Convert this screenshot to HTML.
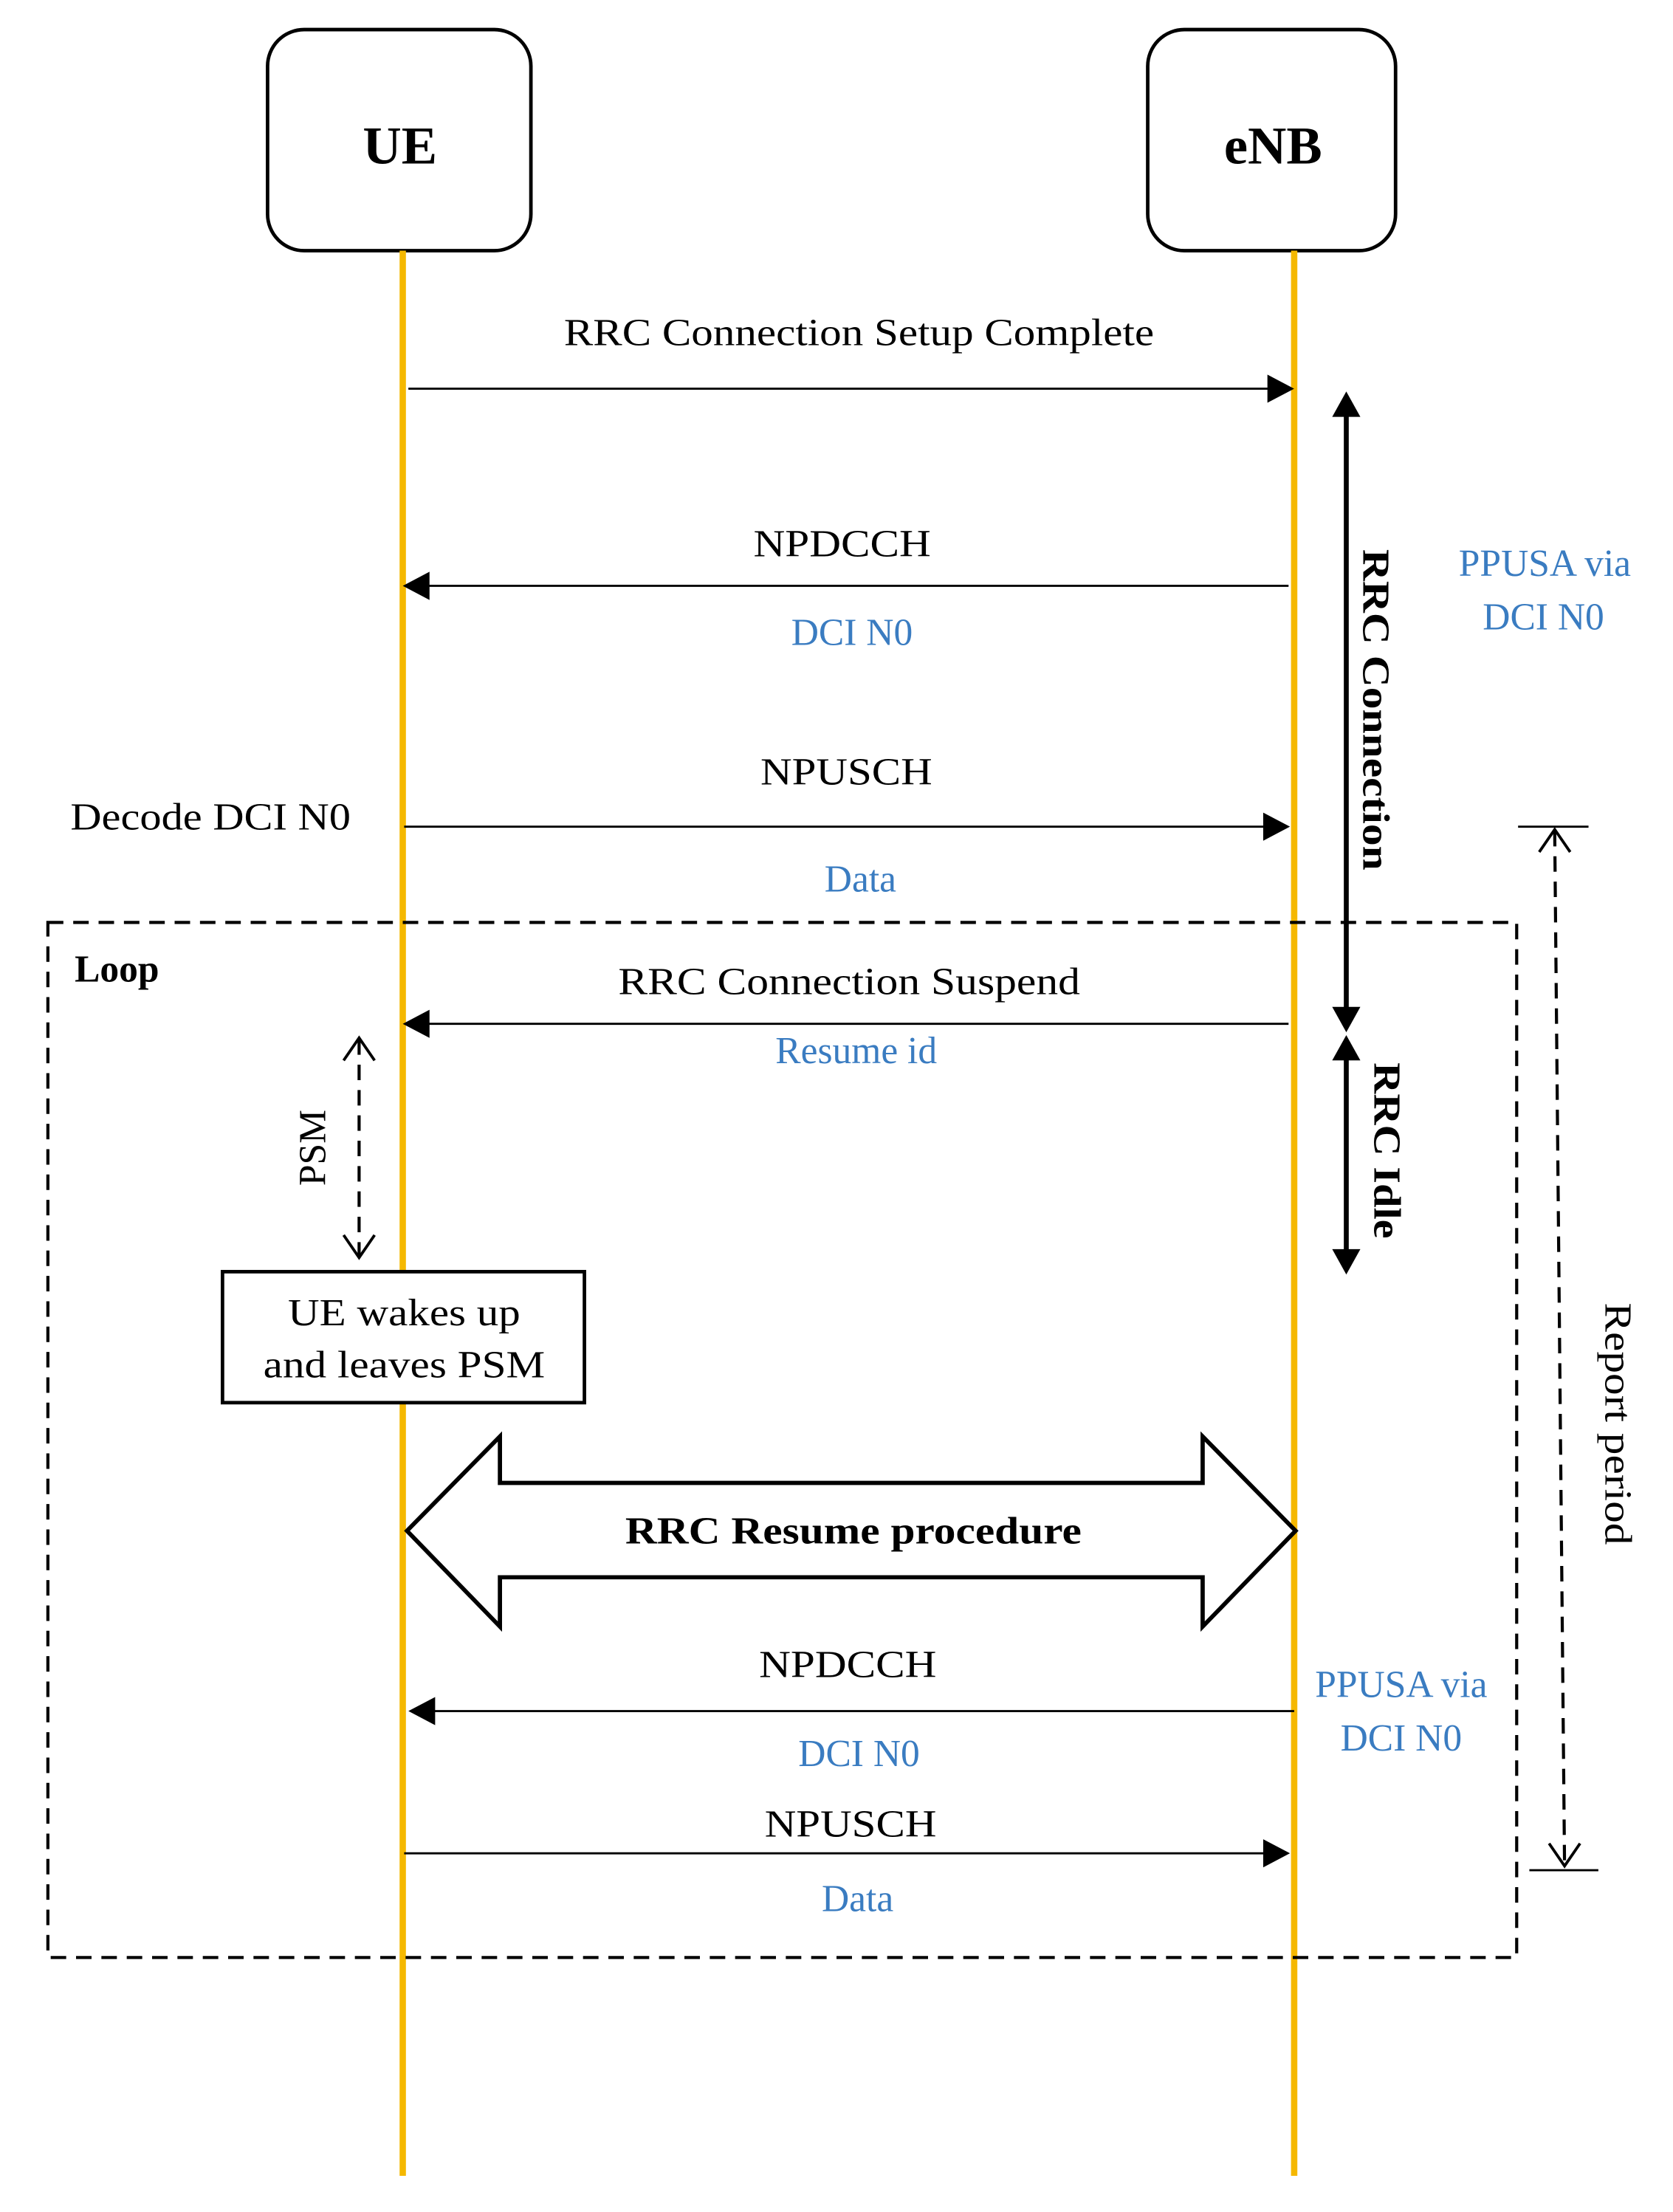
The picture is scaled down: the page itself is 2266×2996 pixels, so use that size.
<!DOCTYPE html>
<html><head><meta charset="utf-8"><style>html,body{margin:0;padding:0;background:#fff}svg{display:block}</style></head>
<body>
<svg width="2266" height="2996" viewBox="0 0 1188 1570.7" preserveAspectRatio="none" xmlns="http://www.w3.org/2000/svg" font-family="'Liberation Serif', serif" font-size="27">
<!-- boxes -->
<rect x="190" y="21" width="187" height="157" rx="26" fill="#fff" stroke="#000" stroke-width="2.5"/>
<rect x="815" y="21" width="176" height="157" rx="26" fill="#fff" stroke="#000" stroke-width="2.5"/>
<text x="284" y="116" font-size="38" font-weight="bold" text-anchor="middle">UE</text>
<text x="904" y="116" font-size="38" font-weight="bold" text-anchor="middle">eNB</text>
<!-- lifelines -->
<line x1="286" y1="178" x2="286" y2="1545" stroke="#f5b800" stroke-width="4.5"/>
<line x1="919" y1="178" x2="919" y2="1545" stroke="#f5b800" stroke-width="4.5"/>

<!-- loop box -->
<rect x="34" y="655" width="1043" height="735" fill="none" stroke="#000" stroke-width="2.2" stroke-dasharray="11,7"/>
<text x="53" y="697" font-weight="bold" font-size="27">Loop</text>

<!-- messages -->
<g stroke="#000" stroke-width="1.5">
<line x1="290" y1="276" x2="903" y2="276"/>
<line x1="915" y1="416" x2="301" y2="416"/>
<line x1="287" y1="587" x2="900" y2="587"/>
<line x1="915" y1="727" x2="301" y2="727"/>
<line x1="919" y1="1215" x2="305" y2="1215"/>
<line x1="287" y1="1316" x2="900" y2="1316"/>
</g>
<g fill="#000">
<path d="M919,276 l-19,-10 v20 z"/>
<path d="M286,416 l19,-10 v20 z"/>
<path d="M916,587 l-19,-10 v20 z"/>
<path d="M286,727 l19,-10 v20 z"/>
<path d="M290,1215 l19,-10 v20 z"/>
<path d="M916,1316 l-19,-10 v20 z"/>
</g>
<g text-anchor="middle">
<text x="610" y="245" textLength="419" lengthAdjust="spacingAndGlyphs">RRC Connection Setup Complete</text>
<text x="598" y="395" textLength="126" lengthAdjust="spacingAndGlyphs">NPDCCH</text>
<text x="605" y="458" fill="#3a7cc1">DCI N0</text>
<text x="601" y="557" textLength="122" lengthAdjust="spacingAndGlyphs">NPUSCH</text>
<text x="611" y="633" fill="#3a7cc1">Data</text>
<text x="603" y="706" textLength="328" lengthAdjust="spacingAndGlyphs">RRC Connection Suspend</text>
<text x="608" y="755" fill="#3a7cc1">Resume id</text>
<text x="602" y="1191" textLength="126" lengthAdjust="spacingAndGlyphs">NPDCCH</text>
<text x="610" y="1254" fill="#3a7cc1">DCI N0</text>
<text x="604" y="1304" textLength="122" lengthAdjust="spacingAndGlyphs">NPUSCH</text>
<text x="609" y="1357" fill="#3a7cc1">Data</text>
<text x="1097" y="409" fill="#3a7cc1">PPUSA via</text>
<text x="1096" y="447" fill="#3a7cc1">DCI N0</text>
<text x="995" y="1205" fill="#3a7cc1">PPUSA via</text>
<text x="995" y="1243" fill="#3a7cc1">DCI N0</text>
</g>
<text x="50" y="589" textLength="199" lengthAdjust="spacingAndGlyphs">Decode DCI N0</text>

<!-- RRC connection / idle arrows -->
<g stroke="#000" stroke-width="3.5">
<line x1="956" y1="292" x2="956" y2="718"/>
<line x1="956" y1="750" x2="956" y2="890"/>
</g>
<g fill="#000">
<path d="M956,278 l-10,18 h20 z"/>
<path d="M956,733 l-10,-18 h20 z"/>
<path d="M956,735 l-10,18 h20 z"/>
<path d="M956,905 l-10,-18 h20 z"/>
</g>
<text transform="translate(968,504) rotate(90)" text-anchor="middle" font-weight="bold" textLength="228" lengthAdjust="spacingAndGlyphs">RRC Connection</text>
<text transform="translate(976,817) rotate(90)" text-anchor="middle" font-weight="bold" textLength="125" lengthAdjust="spacingAndGlyphs">RRC Idle</text>

<!-- report period -->
<line x1="1078" y1="587" x2="1128" y2="587" stroke="#000" stroke-width="1.5"/>
<line x1="1086" y1="1328" x2="1135" y2="1328" stroke="#000" stroke-width="1.5"/>
<line x1="1104" y1="590" x2="1111" y2="1325" stroke="#000" stroke-width="2.2" stroke-dasharray="11,7"/>
<path d="M1093,605 L1104,589 L1115,605" fill="none" stroke="#000" stroke-width="2"/>
<path d="M1100,1309 L1111,1325 L1122,1309" fill="none" stroke="#000" stroke-width="2"/>
<text transform="translate(1140,1011) rotate(90)" text-anchor="middle" textLength="172" lengthAdjust="spacingAndGlyphs">Report period</text>

<!-- PSM -->
<line x1="255" y1="738" x2="255" y2="892" stroke="#000" stroke-width="2.2" stroke-dasharray="11,7"/>
<path d="M244,753 L255,737 L266,753" fill="none" stroke="#000" stroke-width="2"/>
<path d="M244,877 L255,893 L266,877" fill="none" stroke="#000" stroke-width="2"/>
<text transform="translate(231,815) rotate(-90)" text-anchor="middle">PSM</text>

<!-- wake box -->
<rect x="158" y="903" width="257" height="93" fill="#fff" stroke="#000" stroke-width="2.5"/>
<text x="287" y="941" text-anchor="middle" textLength="165" lengthAdjust="spacingAndGlyphs">UE wakes up</text>
<text x="287" y="978" text-anchor="middle" textLength="200" lengthAdjust="spacingAndGlyphs">and leaves PSM</text>

<!-- big double arrow -->
<path d="M289,1087 L355,1020 L355,1053 L854,1053 L854,1020 L920,1087 L854,1155 L854,1120 L355,1120 L355,1155 Z" fill="#fff" stroke="#000" stroke-width="3"/>
<text x="606" y="1096" text-anchor="middle" font-weight="bold" textLength="324" lengthAdjust="spacingAndGlyphs">RRC Resume procedure</text>
</svg>
</body></html>
